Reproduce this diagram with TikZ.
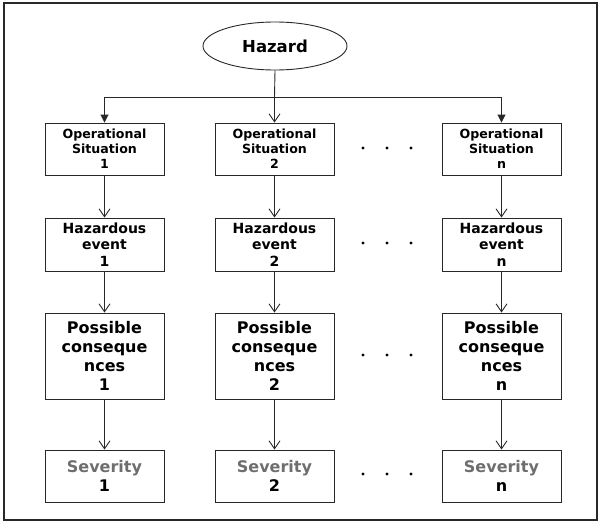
\documentclass[tikz,border=0pt]{standalone}
\usepackage{fontspec}
\setmainfont{DejaVu Sans}
\usetikzlibrary{arrows.meta,shapes.geometric}
\definecolor{sevgray}{RGB}{110,110,110}
\definecolor{linegray}{RGB}{40,40,40}
\begin{document}
\begin{tikzpicture}[x=1pt,y=1pt,
  line width=0.9pt, draw=linegray,
  bx/.style={draw=linegray, line width=0.9pt, minimum width=119pt, text width=117pt, inner sep=0pt, align=center},
  r1/.style={bx, minimum height=52pt, font=\bfseries\fontsize{12.6}{15}\selectfont},
  r2/.style={bx, minimum height=53pt, font=\bfseries\fontsize{14}{16.5}\selectfont},
  r3/.style={bx, minimum height=86pt, font=\bfseries\fontsize{16}{19}\selectfont},
  r4/.style={bx, minimum height=52pt, font=\bfseries\fontsize{16}{19}\selectfont},
  vtip/.style={-{Straight Barb[length=8pt,width=11pt]}},
  ttip/.style={-{Triangle[length=8pt,width=8pt]}},
  dot/.style={circle, fill=black, inner sep=0pt, minimum size=3.4pt}
]
\useasboundingbox (0,0) rectangle (599,-522);
\draw[line width=1.2pt] (4,-3) rectangle (597,-520);

\node[ellipse, draw=linegray, minimum width=144pt, minimum height=48pt, inner sep=0pt,
      font=\bfseries\fontsize{16.5}{19}\selectfont] (hz) at (275,-46) {Hazard};

\node[r1] (o1) at (104.5,-149) {Operational\\Situation\\1};
\node[r1] (o2) at (274.5,-149) {Operational\\Situation\\2};
\node[r1] (on) at (501.5,-149) {Operational\\Situation\\n};

\node[r2] (h1) at (104.5,-244.5) {Hazardous\\event\\1};
\node[r2] (h2) at (274.5,-244.5) {Hazardous\\event\\2};
\node[r2] (hn) at (501.5,-244.5) {Hazardous\\event\\n};

\node[r3] (p1) at (104.5,-356) {Possible\\conseque\\nces\\1};
\node[r3] (p2) at (274.5,-356) {Possible\\conseque\\nces\\2};
\node[r3] (pn) at (501.5,-356) {Possible\\conseque\\nces\\n};

\node[r4] (s1) at (104.5,-476) {{\color{sevgray}Severity}\\1};
\node[r4] (s2) at (274.5,-476) {{\color{sevgray}Severity}\\2};
\node[r4] (sn) at (501.5,-476) {{\color{sevgray}Severity}\\n};

\foreach \r/\y in {a/-148, b/-243, c/-355, d/-474}{
  \node[dot] (\r1) at (363,\y) {};
  \node[dot] (\r2) at (387,\y) {};
  \node[dot] (\r3) at (411,\y) {};
}

\coordinate (j) at (274.5,-97);
\coordinate (jl) at (104.5,-97);
\coordinate (jr) at (501.5,-97);
\draw (hz.south) -- (j);
\draw[vtip] (j) -- (o2.north);
\draw[ttip] (j) -- (jl) -- (o1.north);
\draw[ttip] (j) -- (jr) -- (on.north);

\foreach \c in {1,2,n}{
  \draw[vtip] (o\c.south) -- (h\c.north);
  \draw[vtip] (h\c.south) -- (p\c.north);
  \draw[vtip] (p\c.south) -- (s\c.north);
}
\end{tikzpicture}
\end{document}
